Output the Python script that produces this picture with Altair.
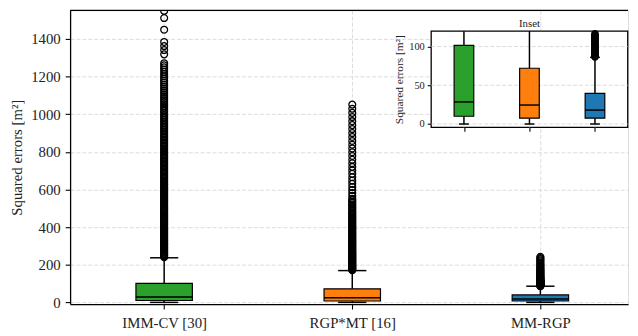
import altair as alt
import pandas as pd

# ---------------- data ----------------
methods = ["IMM-CV [30]", "RGP*MT [16]", "MM-RGP"]
positions = [1, 2, 3]
box_colors = ["#2ca02c", "#ff7f0e", "#1f77b4"]
q1 = [10, 7.5, 7.5]
median = [28.5, 24.5, 18]
q3 = [101.5, 72, 39.5]
whisker_low = [0, 0, 0]
whisker_high = [237, 169, 86]

outliers_imm_cv = [
    240, 245, 250, 255, 260, 265, 270, 275, 280, 285, 290, 295, 300, 306, 311, 316,
    321, 327, 332, 337, 343, 348, 353, 359, 364, 370, 375, 381, 386, 392, 397, 403,
    409, 414, 420, 426, 431, 437, 443, 449, 455, 461, 466, 472, 478, 484, 490, 496,
    502, 508, 514, 520, 527, 533, 539, 545, 551, 558, 564, 570, 577, 583, 589, 596,
    602, 609, 615, 622, 628, 635, 642, 648, 655, 662, 668, 675, 682, 689, 696, 703,
    710, 717, 724, 731, 738, 745, 752, 760, 767, 774, 782, 789, 797, 804, 812, 819,
    827, 835, 843, 851, 859, 867, 875, 883, 891, 899, 908, 916, 925, 933, 942, 951,
    960, 969, 978, 987, 996, 1005, 1015, 1024, 1034, 1043, 1053, 1063, 1073, 1083,
    1093, 1103, 1114, 1124, 1135, 1146, 1157, 1168, 1179, 1190, 1202, 1213, 1225,
    1237, 1249, 1260, 1271, 1318, 1341, 1362, 1384, 1449, 1511, 1549,
]
outliers_rgp_mt = [
    171, 174, 178, 182, 186, 190, 194, 198, 202, 206, 210, 214, 219, 223, 227, 232,
    236, 240, 245, 249, 254, 258, 263, 267, 272, 277, 281, 286, 291, 296, 301, 306,
    311, 316, 321, 326, 331, 336, 342, 347, 352, 358, 363, 369, 374, 380, 386, 391,
    397, 403, 409, 415, 421, 427, 433, 439, 445, 452, 458, 465, 471, 478, 485, 492,
    499, 506, 513, 520, 528, 535, 543, 551, 566, 581, 597, 613, 630, 647, 665, 683,
    701, 720, 739, 758, 778, 798, 818, 838, 858, 879, 900, 921, 942, 963, 985, 1007,
    1029, 1051,
]
outliers_mm_rgp = [
    86.5, 87.5, 88.5, 89.5, 90.5, 91.5, 92.5, 93.5, 94.5, 95.5, 96.5, 97.5, 98.5, 99.5,
    100.5, 101.5, 102.5, 103.5, 104.5, 105.5, 106.5, 107.5, 108.5, 109.5, 110.5, 111.5,
    112.5, 113.5, 114.5, 115.5, 116.5, 118, 119.5, 122, 125, 128, 131, 134, 137, 140,
    143, 147, 151, 155, 159, 163, 167, 171, 175, 180, 185, 190, 195, 200, 206, 212,
    218, 224, 230, 236, 242,
]

main_ticks = [0, 200, 400, 600, 800, 1000, 1200, 1400]
inset_ticks = [0, 50, 100]

# ---------------- layout / style ----------------
FONT = "Liberation Serif"
W, H = 566, 298
MAIN_X = [0.5, 3.466]
MAIN_Y = [-9, 1552]
INSET_X = [0.5, 3.5]
INSET_Y = [-4.3, 120]
INSET_XR = [366.3, 565.7]
INSET_YR = [118.7, 21]
INSET_CLIP = 117
BOX_HALF = 0.15
CAP_HALF = 0.075
GRID = "#d2d2d2"

stats = pd.DataFrame({
    "method": methods, "pos": positions, "q1": q1, "median": median, "q3": q3,
    "wlo": whisker_low, "whi": whisker_high,
})
rows = []
for m, p, vals in zip(methods, positions, [outliers_imm_cv, outliers_rgp_mt, outliers_mm_rgp]):
    for v in vals:
        rows.append({"method": m, "pos": p, "value": v})
fliers = pd.DataFrame(rows)

color = alt.Color("method:N", scale=alt.Scale(domain=methods, range=box_colors), legend=None)

label_expr = " : ".join(
    f"datum.value == {p} ? '{m}'" for p, m in zip(positions, methods)
) + " : ''"

main_xs = alt.Scale(domain=MAIN_X, nice=False, zero=False)
main_ys = alt.Scale(domain=MAIN_Y, nice=False, zero=False)
main_xa = alt.Axis(values=positions, labelExpr=label_expr, grid=True, gridDash=[4, 2],
                   gridColor=GRID, gridWidth=0.8, tickSize=5, tickWidth=1.1, tickColor="black",
                   domainColor="black", domainWidth=1.3, labelFontSize=15, labelPadding=7,
                   labelColor="#222", labelFont=FONT, orient="bottom")
main_ya = alt.Axis(values=main_ticks, format="d", grid=True, gridDash=[4, 2], gridColor=GRID,
                   gridWidth=0.8, tickSize=5, tickWidth=1.1, tickColor="black",
                   domainColor="black", domainWidth=1.3, labelFontSize=15, labelPadding=5,
                   labelColor="#222", labelFont=FONT, title="Squared errors [m²]",
                   titleFont=FONT, titleFontSize=15, titleFontWeight="normal",
                   titleColor="#222", titlePadding=6, orient="left")


def MX(f):
    return alt.X(f"{f}:Q", scale=main_xs, axis=main_xa, title=None)


def MY(f):
    return alt.Y(f"{f}:Q", scale=main_ys, axis=main_ya, title="Squared errors [m²]")


base_m = alt.Chart(stats).transform_calculate(
    left=f"datum.pos - {BOX_HALF}", right=f"datum.pos + {BOX_HALF}",
    capl=f"datum.pos - {CAP_HALF}", capr=f"datum.pos + {CAP_HALF}",
)

m_wlo = base_m.mark_rule(color="black", strokeWidth=1.5).encode(x=MX("pos"), y=MY("wlo"), y2="q1:Q")
m_whi = base_m.mark_rule(color="black", strokeWidth=1.5).encode(x=MX("pos"), y=MY("q3"), y2="whi:Q")
m_box = base_m.mark_bar(stroke="black", strokeWidth=1.2).encode(
    x=MX("left"), x2="right:Q", y=MY("q1"), y2="q3:Q", color=color)
m_med = base_m.mark_rule(color="black", strokeWidth=1.5).encode(x=MX("left"), x2="right:Q", y=MY("median"))
m_caplo = base_m.mark_rule(color="black", strokeWidth=1.5).encode(x=MX("capl"), x2="capr:Q", y=MY("wlo"))
m_caphi = base_m.mark_rule(color="black", strokeWidth=1.5).encode(x=MX("capl"), x2="capr:Q", y=MY("whi"))
m_fl = alt.Chart(fliers).mark_point(shape="circle", filled=False, color="black", size=48,
                                    strokeWidth=1.3, opacity=1, clip=True).encode(
    x=MX("pos"), y=MY("value"))
top_spine = alt.Chart(pd.DataFrame({"a": [0]})).mark_rule(color="black", strokeWidth=1.3).encode(
    x=alt.value(0), x2=alt.value(W), y=alt.value(0))

main = alt.layer(m_wlo, m_whi, m_box, m_med, m_caplo, m_caphi, m_fl, top_spine)

# ---------------- inset ----------------
ins_xs = alt.Scale(domain=INSET_X, range=INSET_XR, nice=False, zero=False)
ins_ys = alt.Scale(domain=INSET_Y, range=INSET_YR, nice=False, zero=False)
ins_xa = alt.Axis(values=positions, labels=False, grid=False, domain=False, tickSize=4,
                  tickWidth=1.1, tickColor="black", orient="bottom",
                  offset=-(H - INSET_YR[0]), title=None)
ins_ya = alt.Axis(values=inset_ticks, grid=False, domain=False, tickSize=4, tickWidth=1.1,
                  tickColor="black", labelFontSize=10.5, labelPadding=3, labelColor="#222",
                  labelFont=FONT, title="Squared errors [m²]", titleFont=FONT,
                  titleFontSize=11.5, titleFontWeight="normal", titleColor="#222",
                  titlePadding=4, orient="left", offset=-INSET_XR[0])


def IX(f):
    return alt.X(f"{f}:Q", scale=ins_xs, axis=ins_xa, title=None)


def IY(f):
    return alt.Y(f"{f}:Q", scale=ins_ys, axis=ins_ya, title="Squared errors [m²]")


frame_df = pd.DataFrame({"x0": [INSET_X[0]], "x1": [INSET_X[1]], "y0": [INSET_Y[0]], "y1": [INSET_Y[1]]})
i_frame = alt.Chart(frame_df).mark_rect(fill="white", stroke="black", strokeWidth=1.3).encode(
    x=IX("x0"), x2="x1:Q", y=IY("y0"), y2="y1:Q")
i_gridy = alt.Chart(pd.DataFrame({"v": inset_ticks})).mark_rule(
    color=GRID, strokeWidth=0.8, strokeDash=[4, 2]).encode(
    x=alt.X("lo:Q", scale=ins_xs, axis=ins_xa, title=None), x2="hi:Q", y=IY("v")
).transform_calculate(lo=str(INSET_X[0]), hi=str(INSET_X[1]))
i_gridx = alt.Chart(pd.DataFrame({"p": positions})).mark_rule(
    color=GRID, strokeWidth=0.8, strokeDash=[4, 2]).encode(
    x=IX("p"), y=alt.Y("lo:Q", scale=ins_ys, axis=ins_ya, title="Squared errors [m²]"), y2="hi:Q"
).transform_calculate(lo=str(INSET_Y[0]), hi=str(INSET_Y[1]))

base_i = alt.Chart(stats).transform_calculate(
    left=f"datum.pos - {BOX_HALF}", right=f"datum.pos + {BOX_HALF}",
    capl=f"datum.pos - {CAP_HALF}", capr=f"datum.pos + {CAP_HALF}",
    whic=f"min(datum.whi, {INSET_Y[1]})",
)
i_wlo = base_i.mark_rule(color="black", strokeWidth=1.5).encode(x=IX("pos"), y=IY("wlo"), y2="q1:Q")
i_whi = base_i.mark_rule(color="black", strokeWidth=1.5).encode(x=IX("pos"), y=IY("q3"), y2="whic:Q")
i_box = base_i.mark_bar(stroke="black", strokeWidth=1.2).encode(
    x=IX("left"), x2="right:Q", y=IY("q1"), y2="q3:Q", color=color)
i_med = base_i.mark_rule(color="black", strokeWidth=1.5).encode(x=IX("left"), x2="right:Q", y=IY("median"))
i_caplo = base_i.mark_rule(color="black", strokeWidth=1.5).encode(x=IX("capl"), x2="capr:Q", y=IY("wlo"))
i_caphi = base_i.mark_rule(color="black", strokeWidth=1.5).encode(
    x=IX("capl"), x2="capr:Q", y=IY("whi")).transform_filter(f"datum.whi <= {INSET_Y[1]}")
i_fl = alt.Chart(fliers).transform_filter(f"datum.value <= {INSET_CLIP}").mark_point(
    shape="circle", filled=False, color="black", size=40, strokeWidth=1.3, opacity=1).encode(
    x=IX("pos"), y=IY("value"))
i_title = alt.Chart(pd.DataFrame({"x": [2], "y": [INSET_Y[1]], "t": ["Inset"]})).mark_text(
    font=FONT, fontSize=11, color="#222", baseline="bottom", dy=-2).encode(
    x=IX("x"), y=IY("y"), text="t:N")

inset = alt.layer(i_frame, i_gridy, i_gridx, i_wlo, i_whi, i_box, i_med, i_caplo, i_caphi, i_fl, i_title)

chart = alt.layer(main, inset).resolve_scale(x="independent", y="independent").properties(
    width=W, height=H,
    autosize=alt.AutoSizeParams(type="none"),
    padding={"left": 63, "top": 0, "right": 2, "bottom": 30},
).configure_view(stroke=None).configure(background="white")

chart.save("out.html", embed_options={"renderer": "svg", "actions": False})
